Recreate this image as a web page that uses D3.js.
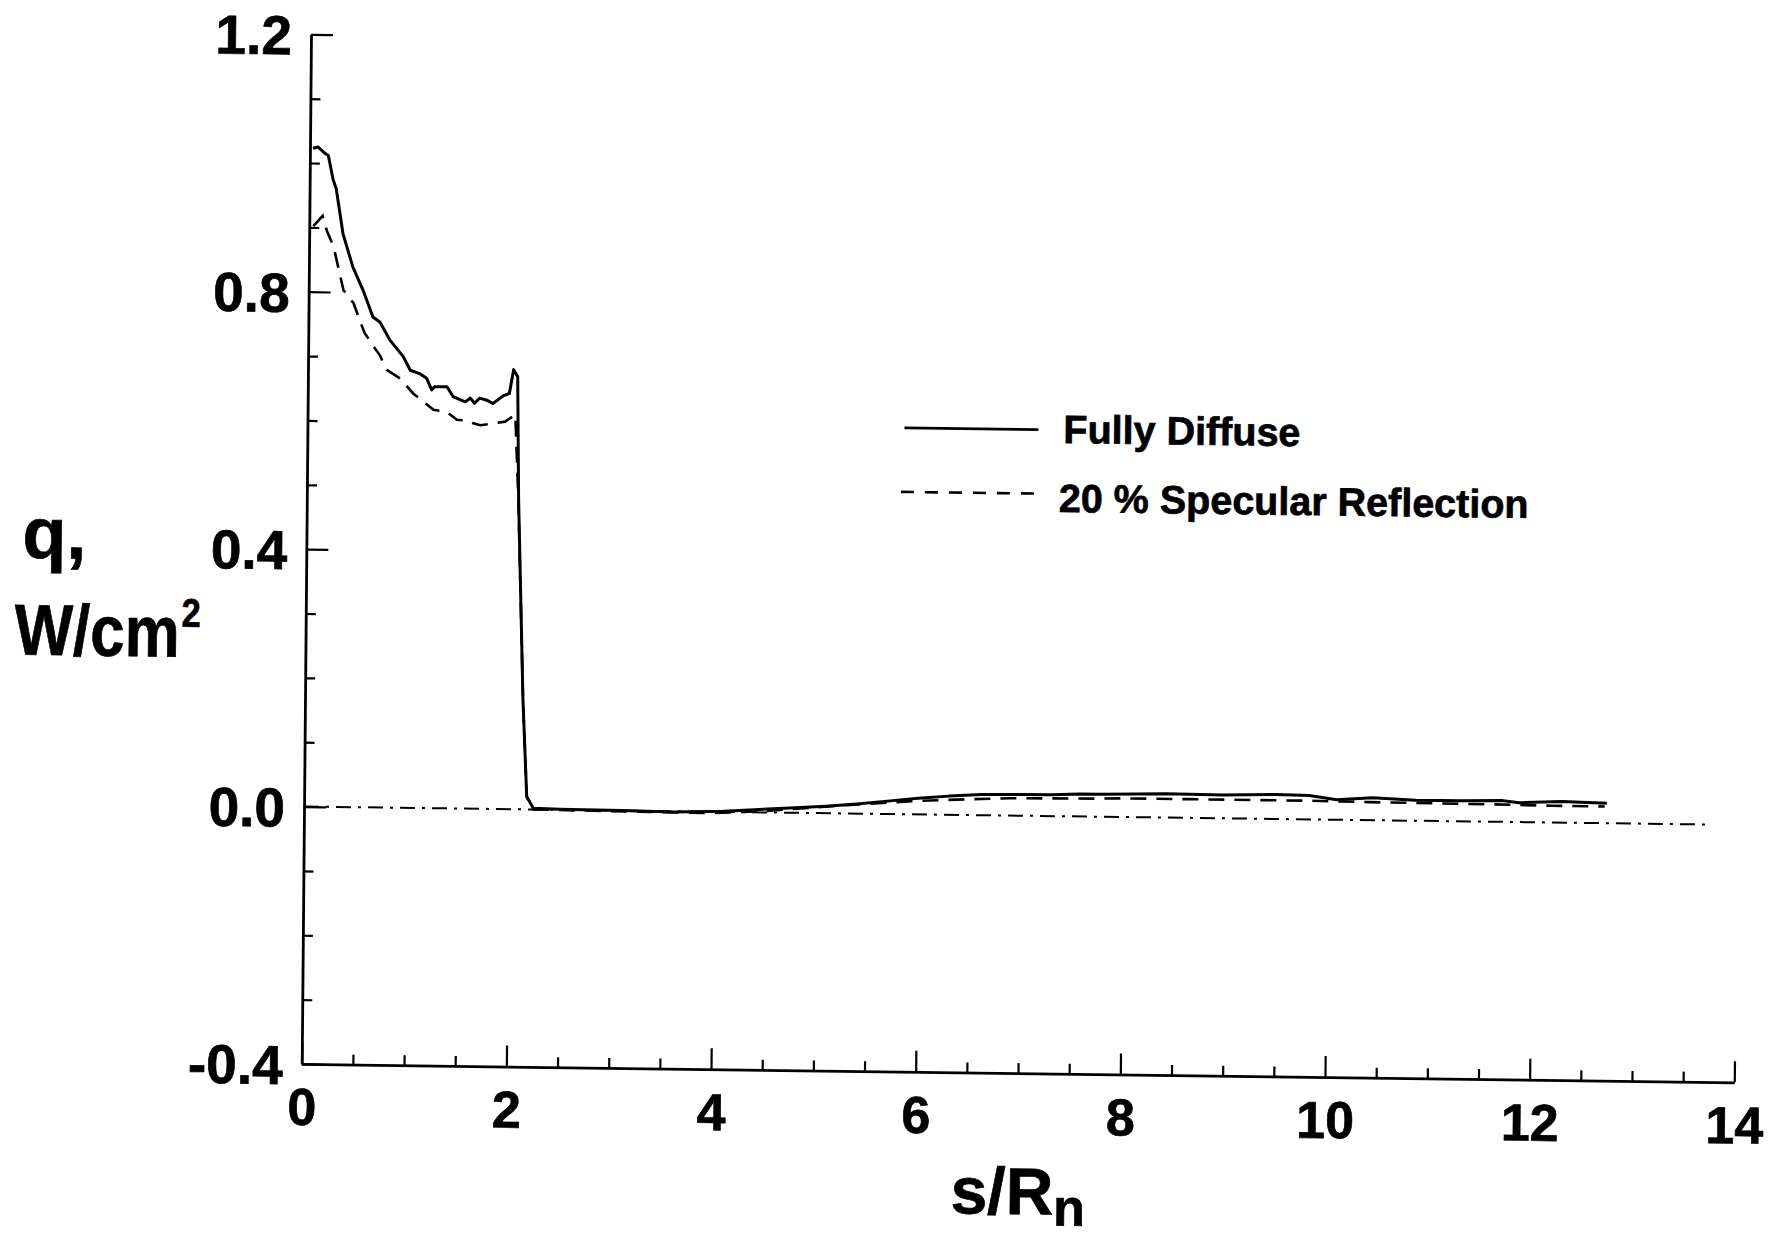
<!DOCTYPE html>
<html lang="en">
<head>
<meta charset="utf-8">
<title>Heat flux along the surface</title>
<script src="https://d3js.org/d3.v7.min.js"></script>
<style>
	body { margin: 0; background: #fff; }
	svg { display: block; }
	.lbl { font-family: "Liberation Sans", Arial, Helvetica, sans-serif; font-weight: bold; fill: #000; stroke: #000; stroke-width: 0.7px; }
</style>
</head>
<body>
<script>

//Fully Diffuse (solid line)
var diffuseS = [0.03, 0.08, 0.15, 0.18, 0.23, 0.26, 0.33, 0.43, 0.53, 0.63, 0.70, 0.80, 0.93, 1.00, 1.09, 1.16, 1.21, 1.24, 1.36, 1.42,
	1.54, 1.59, 1.63, 1.68, 1.75, 1.81, 1.91, 1.97, 2.01, 2.05, 2.07, 2.13, 2.175, 2.24, 2.5, 3.1, 3.6, 4.1, 4.4, 4.8,
	5.1, 5.4, 5.7, 6.0, 6.3, 6.62, 7.0, 7.3, 7.58, 7.78, 8.14, 8.42, 8.98, 9.5, 9.82, 10.09, 10.44, 10.86, 11.31, 11.70,
	11.87, 12.29, 12.73];
var diffuseQ = [1.023, 1.025, 1.015, 1.012, 0.974, 0.961, 0.891, 0.839, 0.804, 0.762, 0.754, 0.726, 0.701, 0.680, 0.675, 0.668, 0.650, 0.655, 0.655, 0.640,
	0.632, 0.638, 0.630, 0.638, 0.635, 0.630, 0.642, 0.646, 0.683, 0.672, 0.48, 0.17, 0.02, 0.002, 0.001, 0.0, -0.001, 0.001, 0.004, 0.008,
	0.011, 0.015, 0.020, 0.025, 0.029, 0.032, 0.033, 0.033, 0.035, 0.035, 0.036, 0.037, 0.036, 0.038, 0.037, 0.031, 0.035, 0.032, 0.032, 0.033,
	0.030, 0.033, 0.031];

//20 % Specular Reflection (dashed line)
var specS = [0.04, 0.13, 0.17, 0.24, 0.34, 0.44, 0.50, 0.55, 0.64, 0.70, 0.77, 0.90, 1.03, 1.11, 1.23, 1.36, 1.46, 1.56, 1.62, 1.69,
	1.82, 1.93, 2.03, 2.07, 2.13, 2.175, 2.24, 3.0, 4.0, 4.5, 5.30, 5.90, 6.26, 6.90, 7.72, 8.0, 8.63, 9.82, 10.41, 11.6,
	12.19, 12.71];
var specQ = [0.902, 0.918, 0.896, 0.870, 0.803, 0.783, 0.757, 0.737, 0.716, 0.703, 0.680, 0.667, 0.644, 0.634, 0.619, 0.616, 0.604, 0.603, 0.599, 0.596,
	0.599, 0.602, 0.613, 0.47, 0.17, 0.02, 0.0, -0.001, -0.002, 0.002, 0.013, 0.020, 0.023, 0.027, 0.028, 0.029, 0.029, 0.029, 0.028, 0.027,
	0.026, 0.026];

//q = 0 reference (dash-dot line)
var zeroS = [0, 13.72];
var zeroQ = [0, 0];

var xTicks = [0, 2, 4, 6, 8, 10, 12, 14];
var xTickLabels = ["0", "2", "4", "6", "8", "10", "12", "14"];
var yTicks = [1.2, 0.8, 0.4, 0, -0.4];
var yTickLabels = ["1.2", "0.8", "0.4", "0.0", "-0.4"];
var legendLabels = ["Fully Diffuse", "20 % Specular Reflection"];

//Width and height
var w = 1781;
var h = 1237;
var pw = 1432.7;
var ph = 1029.7;

var svg = d3.select("body")
	.append("svg")
	.attr("width", w)
	.attr("height", h);

svg.append("rect")
	.attr("width", w)
	.attr("height", h)
	.attr("fill", "#fff");

//the scanned original sits a little skewed on the page
var g = svg.append("g")
	.attr("transform", "matrix(0.99992,0.01278,-0.00903,0.99996,311,34.3)");

var xScale = d3.scaleLinear()
	.domain([0, 14])
	.range([0, pw]);

var yScale = d3.scaleLinear()
	.domain([-0.4, 1.2])
	.range([ph, 0]);

//minor ticks
var xMinor = d3.range(0, 14.01, 0.5).filter(function(d) { return d % 2 !== 0; });
var yMinor = d3.range(-4, 13).filter(function(i) { return i % 4 !== 0; }).map(function(i) { return i / 10; });

g.append("g")
	.attr("transform", "translate(0," + ph + ")")
	.call(d3.axisBottom(xScale).tickValues(xMinor).tickSize(-10).tickSizeOuter(0).tickFormat(""))
	.call(function(a) { a.select(".domain").remove(); });

g.append("g")
	.call(d3.axisLeft(yScale).tickValues(yMinor).tickSize(-10).tickSizeOuter(0).tickFormat(""))
	.call(function(a) { a.select(".domain").remove(); });

//major axes
var xAxis = g.append("g")
	.attr("transform", "translate(0," + ph + ")")
	.call(d3.axisBottom(xScale)
		.tickValues(xTicks)
		.tickSize(-21)
		.tickSizeOuter(0)
		.tickFormat(function(d, i) { return xTickLabels[i]; }));

xAxis.selectAll("text")
	.attr("y", 61)
	.attr("dy", 0)
	.attr("class", "lbl")
	.attr("font-size", 52);

var yAxis = g.append("g")
	.call(d3.axisLeft(yScale)
		.tickValues(yTicks)
		.tickSize(-22)
		.tickSizeOuter(0)
		.tickPadding(19)
		.tickFormat(function(d, i) { return yTickLabels[i]; }));

yAxis.selectAll("text")
	.attr("dy", "0.36em")
	.attr("class", "lbl")
	.attr("font-size", 55);

g.selectAll(".domain").attr("stroke", "#000").attr("stroke-width", 2.8);
g.selectAll(".tick line").attr("stroke", "#000").attr("stroke-width", 2.2);

var line = d3.line()
	.x(function(d) { return xScale(d[0]); })
	.y(function(d) { return yScale(d[1]); });

//zero line
g.append("path")
	.datum(d3.zip(zeroS, zeroQ))
	.attr("d", line)
	.attr("fill", "none")
	.attr("stroke", "#000")
	.attr("stroke-width", 2)
	.attr("stroke-dasharray", "15,7,3,7");

//specular reflection
g.append("path")
	.datum(d3.zip(specS, specQ))
	.attr("d", line)
	.attr("fill", "none")
	.attr("stroke", "#000")
	.attr("stroke-width", 2.6)
	.attr("stroke-dasharray", "16,10");

//fully diffuse
g.append("path")
	.datum(d3.zip(diffuseS, diffuseQ))
	.attr("d", line)
	.attr("fill", "none")
	.attr("stroke", "#000")
	.attr("stroke-width", 3)
	.attr("stroke-linejoin", "round");

//legend
g.append("line")
	.attr("x1", 597).attr("x2", 731)
	.attr("y1", 386).attr("y2", 386)
	.attr("stroke", "#000")
	.attr("stroke-width", 2.6);

g.append("line")
	.attr("x1", 594).attr("x2", 732)
	.attr("y1", 450).attr("y2", 450)
	.attr("stroke", "#000")
	.attr("stroke-width", 2.6)
	.attr("stroke-dasharray", "13,11");

g.append("text")
	.attr("class", "lbl")
	.attr("x", 756)
	.attr("y", 399)
	.attr("font-size", 39.5)
	.text(legendLabels[0]);

g.append("text")
	.attr("class", "lbl")
	.attr("x", 752)
	.attr("y", 468)
	.attr("font-size", 39.5)
	.text(legendLabels[1]);

//axis titles
g.append("text")
	.attr("class", "lbl")
	.attr("x", -284)
	.attr("y", 527)
	.attr("font-size", 72)
	.text("q,");

var unit = g.append("text")
	.attr("class", "lbl")
	.attr("transform", "translate(-291,624) scale(0.86,1)")
	.attr("font-size", 72)
	.text("W/cm");

unit.append("tspan")
	.attr("dx", 2)
	.attr("dy", -30)
	.attr("font-size", 40)
	.text("2");

var xTitle = g.append("text")
	.attr("class", "lbl")
	.attr("x", 650)
	.attr("y", ph + 141)
	.attr("font-size", 66)
	.text("s/R");

xTitle.append("tspan")
	.attr("dy", 11)
	.attr("font-size", 52)
	.text("n");

</script>
</body>
</html>
